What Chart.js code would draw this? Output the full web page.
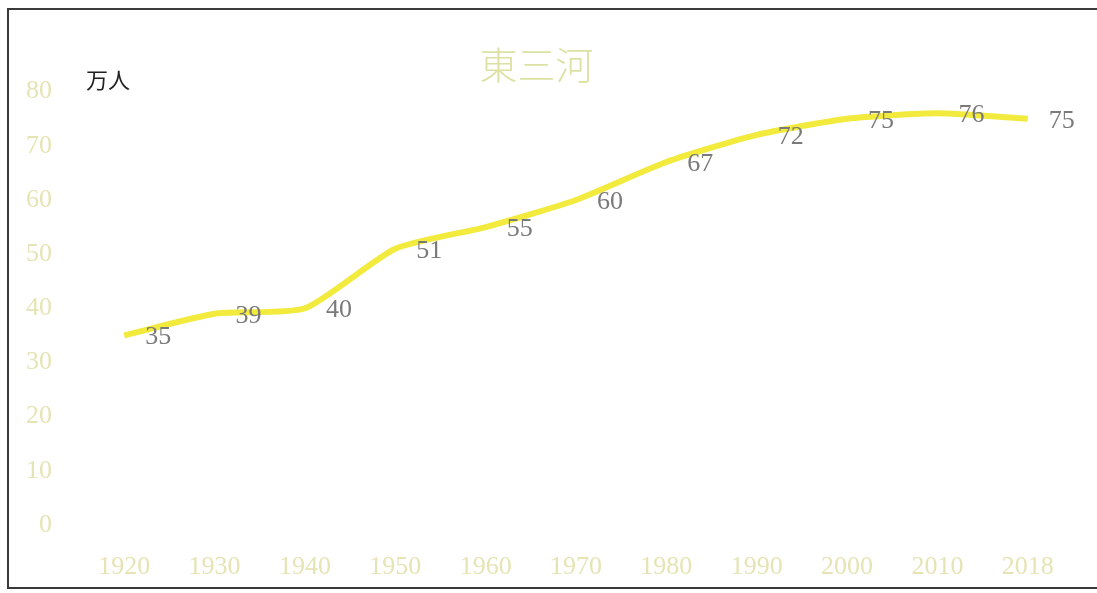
<!DOCTYPE html>
<html>
<head>
<meta charset="utf-8">
<script src="https://cdn.jsdelivr.net/npm/chart.js@4"></script>
<style>
  html, body { margin: 0; padding: 0; background: #fff; overflow: hidden; }
  #frame {
    position: absolute; left: 7px; top: 8px; width: 1110px; height: 581px;
    border: 2px solid #3a3a3a; box-sizing: border-box;
  }
  #wrap { position: absolute; left: 0; top: 0; width: 1097px; height: 593px; }
</style>
</head>
<body>
<div id="frame"></div>
<div id="wrap"><canvas id="myChart"></canvas></div>
<script>
const YEARS = ['1920', '1930', '1940', '1950', '1960', '1970', '1980', '1990', '2000', '2010', '2018'];
const POPULATION = [35, 39, 40, 51, 55, 60, 67, 72, 75, 76, 75];
const Y_TICKS = [0, 10, 20, 30, 40, 50, 60, 70, 80];
const TITLE = '東三河';
const UNIT = '万人';

const paleText = '#e6e4b4';

// value labels to the right of each point + unit text
const labelPlugin = {
  id: 'valueLabels',
  afterDatasetsDraw(chart) {
    const ctx = chart.ctx;
    const meta = chart.getDatasetMeta(0);
    ctx.save();
    ctx.font = '26px "Liberation Serif"';
    ctx.fillStyle = '#7a7a7a';
    ctx.textAlign = 'center';
    ctx.textBaseline = 'middle';
    meta.data.forEach((pt, i) => {
      ctx.fillText(String(POPULATION[i]), pt.x + 34, pt.y + 2);
    });
    ctx.font = '22px "Noto Sans CJK JP"';
    ctx.fillStyle = '#222';
    ctx.textAlign = 'left';
    ctx.fillText(UNIT, 86, 80);
    ctx.restore();
  },
};

let ctx = document.getElementById('myChart').getContext('2d');
let myChart = new Chart(ctx, {
  type: 'line',
  data: {
    labels: YEARS,
    datasets: [
      {
        label: TITLE,
        data: POPULATION,
        borderColor: '#f2ea3c',
        borderWidth: 6,
        tension: 0.2,
        pointRadius: 0,
        fill: false,
      },
    ],
  },
  options: {
    responsive: true,
    maintainAspectRatio: false,
    animation: false,
    layout: { padding: { left: 0, right: 24, top: 42, bottom: 0 } },
    plugins: {
      legend: { display: false },
      tooltip: { enabled: false },
      title: {
        display: true,
        text: TITLE,
        color: '#dde2a4',
        font: { family: '"Noto Sans CJK JP"', size: 38, weight: 300 },
        padding: { top: 0, bottom: 4 },
      },
    },
    scales: {
      x: {
        offset: true,
        grid: { display: false },
        border: { display: false },
        ticks: {
          color: paleText,
          font: { family: '"Liberation Serif"', size: 26 },
          padding: 19,
          maxRotation: 0,
        },
        afterFit: (s) => { s.height = 68; },
      },
      y: {
        min: 0,
        max: 80,
        grid: { display: false },
        border: { display: false },
        afterBuildTicks: (s) => { s.ticks = Y_TICKS.map((v) => ({ value: v })); },
        ticks: {
          color: paleText,
          font: { family: '"Liberation Serif"', size: 26 },
          padding: 19,
        },
        afterFit: (s) => { s.width = 79; },
      },
    },
  },
  plugins: [labelPlugin],
});
</script>
</body>
</html>
